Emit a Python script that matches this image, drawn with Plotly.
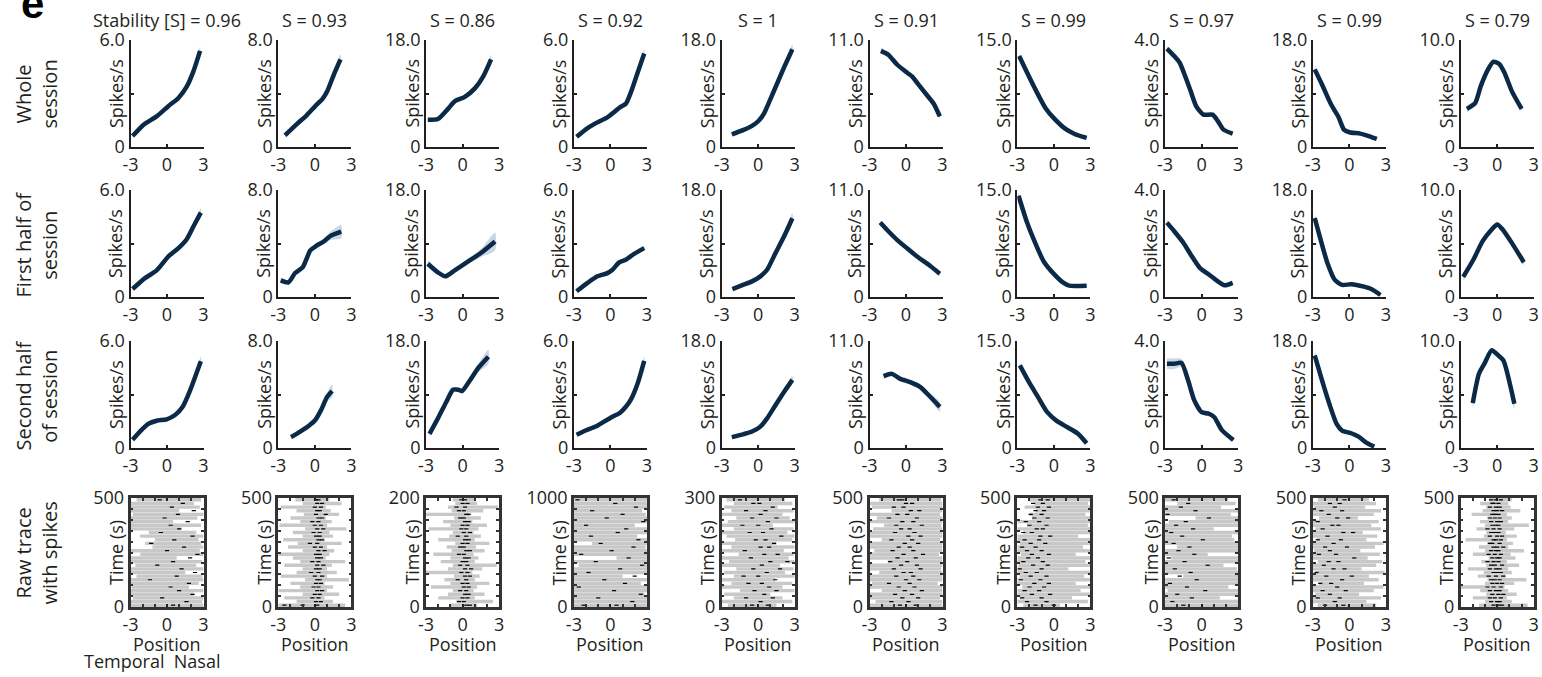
import plotly.graph_objects as go

W, H = 1542, 677

# ---------------- data ----------------
TITLES = ["Stability [S] = 0.96", "S = 0.93", "S = 0.86", "S = 0.92", "S = 1",
          "S = 0.91", "S = 0.99", "S = 0.97", "S = 0.99", "S = 0.79"]
YMAX = [6.0, 8.0, 18.0, 6.0, 18.0, 11.0, 15.0, 4.0, 18.0, 10.0]
YMAX_LABELS = ["6.0", "8.0", "18.0", "6.0", "18.0", "11.0", "15.0", "4.0", "18.0", "10.0"]
RASTER_MAX = [500, 500, 200, 1000, 300, 500, 500, 500, 500, 500]
ROW_LABELS = ["Whole<br>session", "First half of<br>session",
              "Second half<br>of session", "Raw trace<br>with spikes"]
X_TICKS = [-3, 0, 3]
X_TICK_LABELS = ["-3", "0", "3"]

# Whole session tuning curves (position, rate, half-width of shaded band)
X_WHOLE = [
    [-2.83, -1.95, -0.85, 0.11, 0.94, 1.62, 2.17, 2.72],
    [-2.45, -1.48, -0.65, 0.04, 0.65, 1.06, 1.56, 2.11],
    [-2.86, -2.03, -1.2, -0.65, 0.18, 1.01, 1.7, 2.34],
    [-2.78, -1.9, -1.07, -0.25, 0.3, 0.8, 1.27, 1.68, 2.23, 2.78],
    [-2.17, -1.2, -0.51, 0.04, 0.46, 0.96, 1.56, 2.17, 2.81],
    [-2.06, -1.43, -0.74, -0.06, 0.5, 1.05, 1.73, 2.28, 2.78],
    [-2.85, -2.19, -1.44, -0.69, 0.06, 0.96, 1.71, 2.7],
    [-2.85, -2.25, -1.8, -1.35, -0.9, -0.45, 0.15, 0.9, 1.35, 1.8, 2.55],
    [-2.85, -2.25, -1.5, -0.9, -0.45, 0.0, 0.9, 1.65, 2.25],
    [-2.49, -1.8, -1.35, -0.75, -0.3, 0.15, 0.6, 1.2, 2.01],
]
Y_WHOLE = [
    [0.61, 1.24, 1.72, 2.29, 2.75, 3.38, 4.24, 5.39],
    [0.87, 1.71, 2.39, 3.06, 3.62, 4.25, 5.4, 6.55],
    [4.59, 4.7, 6.42, 7.68, 8.43, 9.86, 11.87, 14.73],
    [0.57, 1.05, 1.38, 1.66, 1.95, 2.24, 2.43, 3.06, 4.15, 5.24],
    [2.12, 2.87, 3.55, 4.41, 5.56, 7.85, 10.72, 13.59, 16.45],
    [9.88, 9.46, 8.48, 7.78, 7.25, 6.38, 5.32, 4.45, 3.15],
    [12.75, 10.4, 7.83, 5.48, 3.94, 2.53, 1.83, 1.27],
    [3.68, 3.4, 3.15, 2.65, 2.09, 1.53, 1.21, 1.21, 0.96, 0.65, 0.5],
    [13.05, 10.52, 7.14, 5.06, 2.93, 2.48, 2.25, 1.8, 1.35],
    [3.56, 4.13, 5.69, 7.25, 7.97, 7.78, 6.94, 5.22, 3.56],
]
E_WHOLE = [
    [0.12, 0.08, 0.07, 0.07, 0.07, 0.08, 0.12, 0.25],
    [0.15, 0.1, 0.1, 0.1, 0.1, 0.12, 0.2, 0.4],
    [0.3, 0.2, 0.2, 0.2, 0.2, 0.25, 0.4, 0.8],
    [0.08, 0.05, 0.05, 0.05, 0.05, 0.05, 0.06, 0.08, 0.12, 0.25],
    [0.2, 0.15, 0.15, 0.15, 0.15, 0.2, 0.3, 0.4, 0.8],
    [0.35, 0.15, 0.12, 0.12, 0.12, 0.12, 0.12, 0.15, 0.25],
    [0.3, 0.2, 0.15, 0.12, 0.1, 0.1, 0.1, 0.15],
    [0.1, 0.07, 0.06, 0.05, 0.05, 0.05, 0.05, 0.05, 0.05, 0.05, 0.06],
    [0.6, 0.3, 0.2, 0.2, 0.15, 0.15, 0.15, 0.15, 0.2],
    [0.35, 0.15, 0.12, 0.12, 0.12, 0.12, 0.12, 0.15, 0.2],
]

# First half of session
X_FIRST = [
    [-2.83, -1.81, -0.85, 0.11, 0.94, 1.62, 2.17, 2.78],
    [-2.8, -2.17, -1.62, -0.98, -0.37, 0.12, 0.73, 1.29, 2.17],
    [-2.86, -2.03, -1.42, -0.65, 0.46, 1.56, 2.67],
    [-2.78, -1.9, -1.07, -0.25, 0.17, 0.72, 1.27, 1.95, 2.78],
    [-2.12, -1.2, -0.51, 0.18, 0.73, 1.42, 2.12, 2.81],
    [-2.12, -1.43, -0.74, 0.08, 0.91, 1.87, 2.78],
    [-2.9, -2.19, -1.59, -0.84, 0.06, 0.81, 1.26, 2.7],
    [-2.85, -2.25, -1.5, -0.9, -0.15, 0.6, 1.2, 1.89, 2.55],
    [-2.85, -2.4, -1.8, -1.2, -0.6, 0.15, 1.2, 1.8, 2.55],
    [-2.79, -1.95, -1.2, -0.45, 0.0, 0.45, 1.2, 2.19],
]
Y_FIRST = [
    [0.45, 1.06, 1.49, 2.27, 2.74, 3.24, 3.95, 4.73],
    [1.24, 1.09, 1.79, 2.24, 3.48, 3.83, 4.15, 4.57, 4.89],
    [5.59, 4.14, 3.47, 4.47, 5.98, 7.49, 9.34],
    [0.32, 0.78, 1.16, 1.34, 1.53, 1.94, 2.09, 2.42, 2.74],
    [1.34, 2.07, 2.63, 3.47, 4.58, 7.38, 10.17, 13.25],
    [7.65, 6.73, 5.88, 5.02, 4.17, 3.31, 2.39],
    [14.2, 10.4, 7.83, 5.02, 3.14, 1.97, 1.59, 1.59],
    [2.78, 2.46, 2.03, 1.59, 1.09, 0.84, 0.63, 0.44, 0.53],
    [13.28, 9.9, 5.68, 2.87, 2.03, 2.14, 1.74, 1.35, 0.34],
    [1.88, 3.5, 5.22, 6.31, 6.78, 6.31, 5.06, 3.25],
]
E_FIRST = [
    [0.1, 0.07, 0.07, 0.07, 0.07, 0.08, 0.12, 0.25],
    [0.2, 0.15, 0.12, 0.12, 0.12, 0.12, 0.2, 0.3, 0.5],
    [0.6, 0.4, 0.3, 0.3, 0.4, 0.7, 1.5],
    [0.06, 0.05, 0.05, 0.05, 0.05, 0.06, 0.07, 0.08, 0.12],
    [0.2, 0.15, 0.15, 0.15, 0.2, 0.3, 0.5, 0.9],
    [0.2, 0.12, 0.1, 0.1, 0.1, 0.12, 0.2],
    [0.5, 0.25, 0.2, 0.15, 0.12, 0.1, 0.1, 0.12],
    [0.12, 0.08, 0.06, 0.06, 0.05, 0.05, 0.05, 0.05, 0.06],
    [0.8, 0.4, 0.3, 0.2, 0.15, 0.15, 0.15, 0.15, 0.2],
    [0.4, 0.2, 0.15, 0.12, 0.12, 0.12, 0.15, 0.25],
]

# Second half of session
X_SECOND = [
    [-2.83, -2.23, -1.54, -0.85, -0.03, 0.66, 1.29, 1.9, 2.78],
    [-1.95, -1.2, -0.51, 0.04, 0.51, 1.01, 1.42],
    [-2.72, -2.03, -1.34, -0.79, -0.37, -0.04, 0.6, 1.29, 2.12],
    [-2.78, -2.04, -1.21, -0.52, 0.17, 0.8, 1.27, 1.68, 2.23, 2.78],
    [-2.17, -1.2, -0.51, 0.18, 0.73, 1.42, 2.12, 2.81],
    [-1.84, -1.16, -0.47, 0.35, 1.18, 1.87, 2.78],
    [-2.79, -2.04, -1.29, -0.54, 0.21, 1.11, 2.01, 2.7],
    [-2.85, -2.25, -1.65, -1.11, -0.6, 0.0, 0.6, 1.05, 1.65, 2.61],
    [-2.85, -2.25, -1.65, -1.05, -0.6, 0.15, 0.75, 1.35, 2.04],
    [-2.01, -1.5, -1.05, -0.45, 0.09, 0.51, 1.41],
]
Y_SECOND = [
    [0.46, 0.92, 1.35, 1.53, 1.61, 1.85, 2.31, 3.23, 4.86],
    [0.81, 1.23, 1.65, 2.09, 2.83, 3.82, 4.27],
    [2.38, 4.98, 7.75, 9.8, 9.8, 9.58, 11.35, 13.46, 15.34],
    [0.74, 0.98, 1.2, 1.48, 1.75, 1.98, 2.31, 2.71, 3.6, 4.89],
    [1.83, 2.33, 2.77, 3.6, 4.98, 7.2, 9.42, 11.46],
    [7.38, 7.62, 7.11, 6.77, 6.26, 5.42, 4.23],
    [11.58, 9.23, 7.13, 5.02, 3.84, 2.91, 1.97, 0.66],
    [3.15, 3.15, 3.18, 2.53, 1.78, 1.34, 1.28, 1.15, 0.68, 0.3],
    [15.58, 11.36, 7.43, 4.05, 2.93, 2.48, 1.91, 0.96, 0.23],
    [4.19, 6.94, 7.88, 9.13, 8.66, 8.19, 4.13],
]
E_SECOND = [
    [0.08, 0.06, 0.06, 0.06, 0.06, 0.06, 0.08, 0.12, 0.25],
    [0.2, 0.12, 0.12, 0.12, 0.15, 0.3, 0.5],
    [0.5, 0.4, 0.4, 0.4, 0.4, 0.4, 0.5, 0.7, 1.2],
    [0.06, 0.05, 0.05, 0.05, 0.05, 0.06, 0.07, 0.08, 0.12, 0.25],
    [0.2, 0.15, 0.15, 0.15, 0.2, 0.3, 0.4, 0.7],
    [0.3, 0.2, 0.15, 0.15, 0.2, 0.3, 0.5],
    [0.3, 0.2, 0.15, 0.12, 0.12, 0.12, 0.12, 0.15],
    [0.2, 0.2, 0.15, 0.1, 0.08, 0.08, 0.1, 0.08, 0.06, 0.06],
    [1.0, 0.4, 0.3, 0.2, 0.15, 0.15, 0.15, 0.15, 0.15],
    [0.6, 0.3, 0.2, 0.2, 0.2, 0.2, 0.5],
]

# Raw position trace: span [left, right] swept in each of 30 consecutive time bins (bottom -> top)
TRACE_SPAN = [
    [[-3, 3], [-3, 2.9], [-2.8, 3], [-3, 2.2], [-3, 3], [-2.9, 1.8], [-3, 2.6], [-3, 3], [-2.5, 2.9], [-3, 1.5],
     [-3, 3], [-2.6, 2.4], [-3, 2.9], [-3, 0.8], [-2.2, 3], [-3, 2.7], [-1.2, 3], [-1.8, 2.8], [-1.0, 2.6], [-2.2, 3],
     [-1.5, 2.4], [-3, 1.2], [-3, 2.8], [-3, 0.5], [-3, 2.5], [-2.8, 3], [-3, 1.0], [-3, 2.7], [-3, 2.2], [-2.5, 2.8]],
    [[-3, 2.5], [-1.5, 1.5], [-2.5, 0.8], [-1, 2], [-3, 1], [-1.2, 1.5], [-2, 0.8], [-0.8, 2.8], [-2.8, 1], [-1.5, 1.8],
     [-1, 1], [-2.5, 1.4], [-1.2, 2.5], [-1.8, 0.9], [-3, 1.2], [-1, 1.6], [-2.2, 1], [-1.4, 2.2], [-2.6, 0.8], [-1, 1.5],
     [-1.8, 1.2], [-0.8, 2.6], [-2.9, 1], [-1.2, 1.4], [-2, 0.9], [-0.9, 2], [-1.5, 1.3], [-2.8, 0.9], [-1, 2.2], [-1.6, 1.2]],
    [[-1, 1.2], [-0.5, 2.5], [-2, 1], [-1.2, 1.8], [-0.8, 0.9], [-2.6, 1.2], [-1, 2.2], [-1.5, 1], [-0.7, 1.4], [-3, 0.8],
     [-1.2, 1.6], [-0.8, 2.8], [-1.8, 1], [-1, 1.3], [-2.4, 0.9], [-0.9, 1.8], [-1.3, 1.1], [-0.6, 2.2], [-2, 1], [-1.1, 1.5],
     [-0.8, 0.9], [-2.8, 1.3], [-1, 2], [-1.6, 0.8], [-0.7, 1.5], [-3, 0.6], [-0.9, 1.7], [-1.2, 2.9], [-0.6, 1.2], [-0.8, 1]],
    [[-3, 3], [-3, 3], [-3, 3], [-3, 2.8], [-3, 3], [-3, 3], [-3, 2.5], [-3, 3], [-3, 1.0], [-3, 3],
     [-3, 3], [-2.6, 3], [-3, 3], [0.5, 3], [-3, 3], [-3, 3], [-3, 2.9], [-1.5, 3], [-3, 3], [-3, 2.2],
     [-3, 3], [-3, 3], [-3, 2.0], [-3, 3], [-3, 3], [-3, 2.9], [-3, 2.6], [-3, 3], [-3, 3], [-3, 3]],
    [[-2.5, 1.5], [-3, 2.8], [-2, 2], [-2.8, 1], [-1.5, 3], [-3, 2], [-2.2, 2.8], [-3, 1.4], [-2, 3], [-2.8, 2.2],
     [-1.8, 2.9], [-3, 1.8], [-2.4, 3], [-3, 2.5], [-1.6, 2.9], [-3, 2.1], [-2.2, 3], [-3, 1.5], [-1.9, 2.8], [-2.6, 3],
     [-3, 2.4], [-2, 2.9], [-3, 1.2], [-2.5, 3], [-1.8, 2.6], [-3, 2], [-2.2, 2.9], [-2.8, 1.6], [-2, 2.8], [-2.6, 2.2]],
    [[-3, 3], [-2.5, 3], [-3, 2.8], [-3, 3], [-2, 3], [-3, 3], [-2.8, 2.6], [-3, 3], [-3, 3], [-2.2, 3],
     [-3, 2.9], [-3, 3], [-1.5, 3], [-3, 3], [-3, 2.7], [-2.6, 3], [-3, 3], [-3, 3], [-2, 2.8], [-3, 3],
     [-3, 3], [-2.7, 3], [-1.8, 2.9], [-3, 3], [-2.4, 3], [-3, 2.8], [-1.2, 3], [-2.8, 3], [-3, 3], [-2.2, 2.9]],
    [[-2.5, 0.5], [-3, 2.8], [-2.8, 1.5], [-3, 3], [-3, 2.2], [-2.6, 3], [-3, 1.8], [-3, 3], [-2.8, 2.5], [-3, 3],
     [-3, 1.2], [-2.9, 3], [-3, 2.6], [-3, 3], [-2.7, 1.8], [-3, 3], [-3, 2.4], [-2.8, 3], [-3, 3], [-3, 2],
     [-2.5, 3], [-3, 3], [-2.2, 2.8], [-3, 3], [-1.8, 3], [-2, 2.6], [-1.5, 3], [-2.4, 3], [-1.6, 2.8], [-2, 3]],
    [[-3, 3], [-3, 3], [-3, 1.5], [-3, 3], [-2.8, 3], [-3, 2.2], [-3, 3], [-3, 3], [-1.5, 3], [-3, 3],
     [-3, 2.9], [-3, 1.8], [-3, 3], [-2.5, 3], [-3, 0.5], [-3, 3], [-2, 3], [-3, 3], [-3, 2.7], [-3, 2.5],
     [-3, 3], [-3, 1], [-3, 3], [-2.7, 3], [-0.5, 3], [-3, 2.4], [-3, 3], [-3, 1.6], [-2, 2.8], [-3, 2.2]],
    [[-2.6, 2.2], [-3, 1.4], [-3, 2.6], [-2.8, 0.8], [-3, 2], [-3, 2.8], [-2.5, 1.2], [-3, 2.4], [-3, 1.6], [-2.8, 2.9],
     [-3, 1], [-3, 2.2], [-2.6, 2.7], [-3, 1.5], [-3, 2.5], [-2.9, 0.9], [-3, 2.1], [-3, 2.8], [-2.7, 1.4], [-3, 2.3],
     [-3, 1.1], [-2.8, 2.6], [-3, 1.8], [-3, 2.4], [-2.5, 0.7], [-3, 2], [-3, 2.6], [-2.9, 1.3], [-3, 2.2], [-2.6, 1.6]],
    [[-1.5, 2.5], [-1, 1.2], [-2, 0.8], [-0.9, 1.6], [-1.4, 0.9], [-3, 0.6], [-1, 1.4], [-0.8, 2.4], [-1.6, 0.7], [-1.1, 1.2],
     [-2.4, 0.9], [-0.9, 1.8], [-1.3, 0.8], [-0.7, 1.5], [-2, 1.1], [-1, 2.2], [-1.5, 0.9], [-0.8, 1.3], [-2.6, 0.8], [-1.1, 1.6],
     [-0.9, 0.7], [-1.7, 1.4], [-1, 2.6], [-1.4, 0.9], [-0.8, 1.2], [-2.1, 0.8], [-1.2, 1.9], [-0.9, 1.1], [-1.4, 0.9], [-0.7, 1.2]],
]

# Spike positions in each of the same 30 time bins
SPIKES = [
    [[0.5], [1.6], [-0.4], [2.1], [1.0], [0.3], [1.8], [-1.4], [0.8], [2.3], [1.2], [-0.8], [0.5], [1.9], [2.5],
     [0.0], [1.4], [-1.3], [0.6], [2.1], [-0.5], [1.0], [0.3], [1.7], [-0.2], [0.9], [2.2], [0.4], [1.3], [-0.6]],
    [[-2.5, -1.0, 0.2], [0.1, 0.5], [0.3, -0.2], [0.4, 0.0], [0.2, 0.6], [-0.1, 0.3], [0.5, 0.1], [0.2, 0.4], [0.0, 0.6], [0.3, -0.3],
     [0.4, 0.1], [0.2, 0.7], [-0.2, 0.3], [0.5, 0.2], [0.1, 0.4], [0.3, 0.8], [0.0, 0.5], [0.2, -0.4], [0.6, 0.3], [0.1, 0.4],
     [0.4, -0.1], [0.2, 0.7], [0.5, 0.0], [-0.2, 0.3], [0.3, 0.6], [0.1, 0.9], [0.4, 0.2], [0.0, 0.5], [0.2, 0.6], [0.3, 0.1]],
    [[0.3, 0.6], [0.1, -0.3], [0.4, 0.0], [0.2, 0.5], [-0.2, 0.3], [0.5, 0.1], [0.0, 0.4], [0.3, -0.4], [0.6, 0.2], [-0.1, 0.4],
     [0.2, 0.7], [0.4, -0.2], [0.0, 0.3], [0.5, 0.2], [-0.3, 0.1], [0.3, 0.6], [0.1, -0.2], [0.4, 0.0], [0.2, 0.5], [-0.4, 0.3],
     [0.1, 0.6], [0.3, -0.1], [0.0, 0.4], [0.5, 0.2], [-0.2, 0.1], [0.3, 0.5], [0.1, -0.3], [-0.5, 0.2], [0.0, 0.4], [0.2, -0.1]],
    [[-2.2, 0.5], [1.8], [-1.0], [2.5], [0.3], [-2.6], [1.2], [-0.5], [2.0], [-1.8], [0.8], [2.6], [-1.2], [1.5], [-2.4],
     [0.1], [1.9], [-0.8], [2.3], [-1.6], [0.6], [1.3], [-2.0], [2.7], [-0.3], [1.0], [-1.5], [2.1], [0.4], [-2.7]],
    [[-0.5, 0.8], [0.2], [-1.0, 1.2], [0.5], [-0.3, 1.5], [0.9], [-0.8, 0.3], [1.4], [0.0, -1.2], [0.7],
     [1.8, -0.4], [0.3], [2.4, 1.0], [-0.6], [0.5, 1.6], [-1.1], [0.2, 0.9], [1.3], [-0.2, 0.6], [1.9],
     [-0.7, 0.4], [1.1], [0.0, -1.3], [0.8], [-0.5, 1.5], [0.2], [-1.0, 0.6], [1.2], [-0.4, 0.1], [-1.5]],
    [[-0.5, 0.8], [0.2, -1.2], [1.0, -0.3], [0.5, -0.9], [-0.1, 1.3], [0.7, -0.6], [-1.4, 0.3], [1.1, 0.0], [-0.8, 0.6], [0.4, -0.2],
     [1.2, -1.0], [-0.4, 0.9], [0.1, -1.3], [0.8, -0.7], [-0.2, 1.4], [0.6, -1.1], [-0.6, 0.3], [1.0, -0.1], [-1.2, 0.5], [0.2, 1.2],
     [-0.9, 0.7], [0.3, -0.4], [1.3, -0.8], [-0.3, 0.6], [0.9, -1.4], [-0.7, 0.1], [0.4, 1.1], [-1.0, -0.2], [0.5, 0.0], [-0.6, -0.3]],
    [[-1.5, 0.0], [-2.2, -0.6], [-1.0, -2.6], [-1.8, -0.3], [-2.4, -1.2], [-0.8, -2.0], [-1.6, -0.4], [-2.7, -1.1], [-0.6, -1.9], [-2.3, -1.4],
     [-1.0, -2.8], [-1.7, -0.5], [-2.5, -0.9], [-1.3, -2.1], [-0.4, -1.8], [-2.2, -1.0], [-1.5, -2.6], [-0.7, -1.9], [-2.4, -1.2], [-1.1, -0.3],
     [-1.8, -2.5], [-0.9, -1.4], [-2.0, -0.6], [-1.2, -2.3], [-0.5, -1.6], [-1.9, -1.0], [-0.8, -1.5], [-1.3, -0.4], [-0.9, -1.7], [-1.1, -0.5]],
    [[-1.5], [-2.4], [-0.8], [-2.0], [0.3], [-1.2], [-2.6], [-0.4], [-1.8], [-0.9], [-2.2], [0.5], [-1.4], [-2.7], [-0.6],
     [-1.9], [-1.0], [-2.3], [0.1], [-1.6], [-2.5], [-0.7], [-2.1], [-1.3], [0.6], [-2.8], [-0.5], [-1.7], [-1.1], [-2.3]],
    [[-2.0, -0.5], [-1.2], [-2.6, -0.8], [-1.6], [-0.3, -2.2], [-1.0], [-2.4, -1.5], [-0.6], [-1.9, 0.2], [-2.7],
     [-1.3, -0.4], [-2.1], [-0.9, -1.7], [0.4], [-2.5, -1.1], [-1.6], [-0.2, -2.0], [-1.3], [-2.6, -0.7], [-1.8],
     [-0.5, 0.3], [-2.2], [-1.4, -0.9], [-2.6], [-1.0, -0.1], [-1.7], [-0.6, -2.3], [-1.2], [-0.8, -1.6], [-0.4]],
    [[-0.3, 0.1, 0.4], [-0.5, 0.0, 0.2], [-0.2, 0.3, -0.6], [-0.4, 0.1, 0.5], [-0.1, -0.6, 0.2], [-0.3, 0.3, -0.8],
     [0.0, -0.4, 0.4], [-0.5, 0.2, -0.2], [-0.1, 0.5, -0.7], [-0.3, 0.0, 0.3], [-0.6, -0.1, 0.2], [-0.2, 0.4, -0.5],
     [0.1, -0.3, -0.8], [-0.4, 0.2, 0.0], [-0.2, -0.7, 0.3], [-0.5, 0.1, -0.1], [0.0, -0.3, 0.5], [-0.4, 0.2, -0.6],
     [-0.1, 0.3, -0.3], [-0.6, 0.0, 0.4], [-0.2, -0.5, 0.1], [-0.3, 0.2, -0.8], [0.1, -0.4, -0.1], [-0.5, 0.3, 0.0],
     [-0.2, -0.6, 0.2], [-0.4, 0.1, -0.2], [0.0, -0.3, 0.4], [-0.6, -0.1, 0.2], [-0.3, 0.1, -0.4], [-0.1, 0.3, -0.5]],
]

# ---------------- style / layout ----------------
FONT = "Open Sans"
INK = "#231f20"
LINE_C = "#0b2a47"
BAND_C = "rgba(160,180,205,0.55)"
GREY = "#c8c8c8"
COL_LEFT, COL_STEP, PANEL_W = 130.5, 147.8, 73.0
ROW_TOP = [40, 190, 341, 498]
ROW_BOT = [147, 297, 448, 607]
TICK_FS = 18

fig = go.Figure()
layout = dict(width=W, height=H, margin=dict(l=0, r=0, t=0, b=0, autoexpand=False),
              paper_bgcolor="white", plot_bgcolor="white", showlegend=False,
              font=dict(family=FONT, color=INK, size=TICK_FS))
annotations = []


def px(x):
    return x / W


def py(y):
    return 1 - y / H


curve_sets = [(X_WHOLE, Y_WHOLE, E_WHOLE), (X_FIRST, Y_FIRST, E_FIRST), (X_SECOND, Y_SECOND, E_SECOND)]

for r in range(4):
    for c in range(10):
        k = r * 10 + c + 1
        sx = "" if k == 1 else str(k)
        x0 = COL_LEFT + c * COL_STEP
        x1 = x0 + PANEL_W
        xd = [px(x0), px(x1)]
        yd = [py(ROW_BOT[r]), py(ROW_TOP[r])]
        xa = dict(domain=xd, anchor="y" + sx, range=[-3, 3], tickmode="array",
                  tickvals=X_TICKS, ticktext=X_TICK_LABELS, ticks="inside", ticklen=3,
                  tickwidth=2, tickcolor=INK, showline=True, linecolor=INK, linewidth=2,
                  showgrid=False, zeroline=False, fixedrange=True, automargin=False,
                  tickfont=dict(size=TICK_FS, family=FONT, color=INK))
        if r < 3:
            ym = YMAX[c]
            ya = dict(domain=yd, anchor="x" + sx, range=[0, ym], tickmode="array",
                      tickvals=[0, ym / 2, ym], ticktext=["0", "", YMAX_LABELS[c]],
                      ticks="inside", ticklen=3, tickwidth=2, tickcolor=INK,
                      showline=True, linecolor=INK, linewidth=2, showgrid=False,
                      zeroline=False, fixedrange=True, automargin=False,
                      tickfont=dict(size=TICK_FS, family=FONT, color=INK))
            X, Y, E = curve_sets[r]
            xs, ys, es = X[c], Y[c], E[c]
            up = [a + b for a, b in zip(ys, es)]
            lo = [a - b for a, b in zip(ys, es)]
            fig.add_trace(go.Scatter(x=xs + xs[::-1], y=up + lo[::-1], fill="toself",
                                     fillcolor=BAND_C, line=dict(width=0, shape="spline", smoothing=0.6),
                                     mode="lines", hoverinfo="skip",
                                     xaxis="x" + sx, yaxis="y" + sx))
            fig.add_trace(go.Scatter(x=xs, y=ys, mode="lines",
                                     line=dict(color=LINE_C, width=4.5, shape="spline", smoothing=0.6),
                                     xaxis="x" + sx, yaxis="y" + sx))
            annotations.append(dict(x=px(x0 - 15), y=py((ROW_TOP[r] + ROW_BOT[r]) / 2),
                                    xref="paper", yref="paper", text="Spikes/s", textangle=-90,
                                    showarrow=False, font=dict(size=18, family=FONT, color=INK),
                                    xanchor="center", yanchor="middle"))
        else:
            dur = RASTER_MAX[c]
            xa.update(mirror="ticks", linewidth=2.5, linecolor="#333333",
                      minor=dict(ticks="inside", dtick=1, ticklen=3, tickwidth=2, tickcolor="#333333"))
            ya = dict(domain=yd, anchor="x" + sx, range=[0, dur], tickmode="array",
                      tickvals=[0, dur], ticktext=["0", str(dur)], ticks="inside", ticklen=3,
                      tickwidth=2, tickcolor="#333333", showline=True, mirror="ticks",
                      linecolor="#333333", linewidth=2.5, showgrid=False, zeroline=False,
                      fixedrange=True, automargin=False,
                      tickfont=dict(size=TICK_FS, family=FONT, color=INK),
                      minor=dict(ticks="inside", dtick=dur / 10, ticklen=3, tickwidth=2,
                                 tickcolor="#333333"))
            nb = len(TRACE_SPAN[c])
            gx, gy = [], []
            for i, (a, b) in enumerate(TRACE_SPAN[c]):
                t = (i + 0.5) * dur / nb
                gx += [a, b, None]
                gy += [t, t, None]
            fig.add_trace(go.Scatter(x=gx, y=gy, mode="lines", line=dict(color=GREY, width=3.4),
                                     hoverinfo="skip", xaxis="x" + sx, yaxis="y" + sx))
            sxs, sys_ = [], []
            for i, row in enumerate(SPIKES[c]):
                t = (i + 0.5) * dur / nb
                for v in row:
                    sxs.append(v)
                    sys_.append(t)
            fig.add_trace(go.Scatter(x=sxs, y=sys_, mode="markers",
                                     marker=dict(symbol="line-ew", size=3,
                                                 line=dict(color="black", width=1.2)),
                                     xaxis="x" + sx, yaxis="y" + sx))
            annotations.append(dict(x=px(x0 - 15), y=py((ROW_TOP[r] + ROW_BOT[r]) / 2),
                                    xref="paper", yref="paper", text="Time (s)", textangle=-90,
                                    showarrow=False, font=dict(size=18, family=FONT, color=INK),
                                    xanchor="center", yanchor="middle"))
            annotations.append(dict(x=px((x0 + x1) / 2), y=py(644), xref="paper", yref="paper",
                                    text="Position", showarrow=False,
                                    font=dict(size=18, family=FONT, color=INK),
                                    xanchor="center", yanchor="middle"))
        layout["xaxis" + sx] = xa
        layout["yaxis" + sx] = ya

    annotations.append(dict(x=px(36), y=py((ROW_TOP[r] + ROW_BOT[r]) / 2 + 1), xref="paper",
                            yref="paper", text=ROW_LABELS[r], textangle=-90, showarrow=False,
                            font=dict(size=20, family=FONT, color=INK),
                            xanchor="center", yanchor="middle"))

for c in range(10):
    x0 = COL_LEFT + c * COL_STEP
    annotations.append(dict(x=px(x0 + PANEL_W / 2), y=py(20), xref="paper", yref="paper",
                            text=TITLES[c], showarrow=False,
                            font=dict(size=18, family=FONT, color=INK),
                            xanchor="center", yanchor="middle"))

annotations.append(dict(x=px(152), y=py(661), xref="paper", yref="paper",
                        text="Temporal&nbsp;&nbsp;Nasal", showarrow=False,
                        font=dict(size=18, family=FONT, color=INK),
                        xanchor="center", yanchor="middle"))
annotations.append(dict(x=px(32), y=py(4), xref="paper", yref="paper",
                        text="<b>e</b>", showarrow=False,
                        font=dict(size=42, family="Liberation Sans", color="black"),
                        xanchor="center", yanchor="middle"))

layout["annotations"] = annotations
fig.update_layout(**layout)
fig.write_html("out.html", config={"displayModeBar": False},
               post_script="document.body.style.margin='0';document.body.style.padding='0';")
